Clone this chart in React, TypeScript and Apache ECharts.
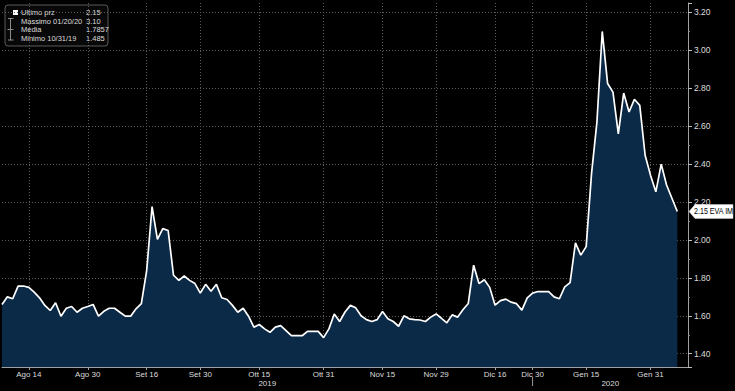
import React, { useEffect, useRef } from "react";
import * as echarts from "echarts";

// ---- calendar (Borsa Italiana trading days) ----
const START_DATE = "2019-08-07";
const END_DATE = "2020-02-11";
const HOLIDAYS = ["2019-08-15", "2019-12-24", "2019-12-25", "2019-12-26", "2019-12-31", "2020-01-01"];

// ---- price series (EVA IM), one value per trading day from 2019-08-07 ----
const PRICES: number[] = [
  1.66, 1.70, 1.69, 1.757, 1.757, 1.75, 1.725, 1.695, 1.655, 1.628,
  1.669, 1.598, 1.64, 1.649, 1.619, 1.64, 1.649, 1.66, 1.598, 1.624,
  1.64, 1.64, 1.619, 1.598, 1.598, 1.637, 1.664, 1.84, 2.176, 2.003,
  2.06, 2.05, 1.814, 1.787, 1.81, 1.787, 1.77, 1.72, 1.766, 1.73,
  1.766, 1.695, 1.686, 1.655, 1.619, 1.64, 1.598, 1.54, 1.554, 1.531,
  1.513, 1.54, 1.548, 1.522, 1.495, 1.495, 1.495, 1.518, 1.518, 1.518,
  1.485, 1.531, 1.61, 1.57, 1.62, 1.655, 1.642, 1.60, 1.58, 1.57,
  1.58, 1.623, 1.584, 1.57, 1.545, 1.60, 1.584, 1.58, 1.578, 1.57,
  1.593, 1.61, 1.587, 1.563, 1.605, 1.593, 1.632, 1.665, 1.867, 1.77,
  1.79, 1.75, 1.656, 1.68, 1.688, 1.672, 1.664, 1.63, 1.695, 1.72,
  1.728, 1.728, 1.728, 1.70, 1.69, 1.753, 1.775, 1.985, 1.92, 1.965,
  2.35, 2.62, 3.10, 2.825, 2.78, 2.56, 2.775, 2.675, 2.742, 2.71,
  2.447, 2.342, 2.254, 2.40, 2.29, 2.22, 2.15,
];

// ---- x tick label dates ----
const LABEL_DATES = [
  "2019-08-14", "2019-08-30", "2019-09-16", "2019-09-30", "2019-10-15", "2019-10-31",
  "2019-11-15", "2019-11-29", "2019-12-16", "2019-12-30", "2020-01-15", "2020-01-31",
];
const MONTHS_IT = ["Gen", "Feb", "Mar", "Apr", "Mag", "Giu", "Lug", "Ago", "Set", "Ott", "Nov", "Dic"];
const YEAR_LABELS = ["2019", "2020"];
const YEAR_SEPARATOR_DATE = "2019-12-30";

// ---- legend ----
const LEGEND_NAMES = ["Ultimo prz", "Massimo 01/20/20", "Media", "Minimo 10/31/19"];
const LEGEND_VALUES = ["2.15", "3.10", "1.7857", "1.485"];
const TICKER = "EVA IM";

const Y_MIN = 1.33;
const Y_MAX = 3.25;

const FONT = "'Liberation Sans', Arial, sans-serif";
const TEXT_COLOR = "#dcdcdc";

function tradingDays(start: string, end: string, holidays: string[]): string[] {
  const out: string[] = [];
  const d = new Date(start + "T00:00:00Z");
  const e = new Date(end + "T00:00:00Z");
  while (d <= e) {
    const wd = d.getUTCDay();
    const s = d.toISOString().slice(0, 10);
    if (wd !== 0 && wd !== 6 && holidays.indexOf(s) < 0) out.push(s);
    d.setUTCDate(d.getUTCDate() + 1);
  }
  return out;
}

export default function App() {
  const ref = useRef<HTMLDivElement>(null);

  useEffect(() => {
    if (!ref.current) return;
    const chart = echarts.init(ref.current, undefined, { renderer: "svg" });
    const dates = tradingDays(START_DATE, END_DATE, HOLIDAYS);
    const values = dates.map((_, i) => (i < PRICES.length ? PRICES[i] : null));
    const lastIdx = PRICES.length - 1;
    const lastVal = PRICES[lastIdx];
    const labelSet = new Set(LABEL_DATES);
    const isLabel = (idx: number) => labelSet.has(dates[idx]);
    const fmtDate = (v: string) => {
      const parts = v.split("-");
      return MONTHS_IT[parseInt(parts[1], 10) - 1] + " " + parseInt(parts[2], 10);
    };

    const rowY = [7.5, 16, 24.5, 33];
    const legendChildren: any[] = [
      {
        type: "rect",
        shape: { x: 0, y: 0, width: 103, height: 41, r: 3 },
        style: { fill: "#080808", stroke: "#5a5a5a", lineWidth: 1 },
      },
      { type: "rect", shape: { x: 8, y: 5, width: 5, height: 5 }, style: { fill: "#ffffff" } },
      { type: "line", shape: { x1: 5.5, y1: 13.5, x2: 5.5, y2: 35 }, style: { stroke: "#8a8a8a", lineWidth: 1 } },
      { type: "line", shape: { x1: 3, y1: 13.5, x2: 8.5, y2: 13.5 }, style: { stroke: "#8a8a8a", lineWidth: 1 } },
      { type: "line", shape: { x1: 2.5, y1: 24.5, x2: 8.5, y2: 24.5 }, style: { stroke: "#8a8a8a", lineWidth: 1 } },
      { type: "line", shape: { x1: 3, y1: 35, x2: 8.5, y2: 35 }, style: { stroke: "#8a8a8a", lineWidth: 1 } },
    ];
    LEGEND_NAMES.forEach((name, i) => {
      legendChildren.push({
        type: "text",
        style: { text: name, x: 16, y: rowY[i], fill: TEXT_COLOR, fontSize: 7.5, fontFamily: FONT, verticalAlign: "middle" },
      });
      legendChildren.push({
        type: "text",
        style: { text: LEGEND_VALUES[i], x: 81, y: rowY[i], fill: TEXT_COLOR, fontSize: 7.5, fontFamily: FONT, verticalAlign: "middle" },
      });
    });

    chart.setOption({
      animation: false,
      backgroundColor: "#000000",
      grid: { left: 2, right: 47, top: 3, bottom: 24, containLabel: false },
      xAxis: {
        type: "category",
        data: dates,
        boundaryGap: false,
        axisLine: { onZero: false, lineStyle: { color: "#a0a0a0", width: 1 } },
        axisTick: { show: true, interval: isLabel, length: 3, lineStyle: { color: "#a0a0a0" } },
        axisLabel: {
          interval: isLabel,
          formatter: fmtDate,
          color: TEXT_COLOR,
          fontSize: 8,
          fontFamily: FONT,
          margin: 3,
        },
        splitLine: { show: true, interval: isLabel, lineStyle: { color: "#5c5c5c", type: [1, 2], width: 1 } },
      },
      yAxis: {
        type: "value",
        position: "right",
        min: Y_MIN,
        max: Y_MAX,
        splitNumber: 10,
        minInterval: 0.2,
        maxInterval: 0.2,
        axisLine: { show: true, lineStyle: { color: "#a0a0a0", width: 1 } },
        axisTick: { show: true, length: 4, lineStyle: { color: "#bdbdbd" } },
        minorTick: { show: true, splitNumber: 2, length: 2, lineStyle: { color: "#8a8a8a" } },
        axisLabel: {
          showMinLabel: false,
          showMaxLabel: false,
          color: TEXT_COLOR,
          fontSize: 8.5,
          fontFamily: FONT,
          margin: 6,
          formatter: (v: number) => v.toFixed(2),
        },
        splitLine: {
          show: true,
          showMinLine: false,
          showMaxLine: false,
          lineStyle: { color: "#5c5c5c", type: [1, 2], width: 1 },
        },
      },
      series: [
        {
          type: "line",
          data: values,
          symbol: "none",
          lineStyle: { color: "#ffffff", width: 1.7 },
          areaStyle: { color: "#0b2a48", opacity: 1 },
        },
      ],
      graphic: [{ type: "group", id: "legend", x: 5, y: 5, children: legendChildren }],
    });

    // annotations placed through the axis scales
    const sepIdx = dates.indexOf(YEAR_SEPARATOR_DATE);
    const xLeft = chart.convertToPixel({ xAxisIndex: 0 }, 0) as number;
    const xSep = chart.convertToPixel({ xAxisIndex: 0 }, sepIdx) as number;
    const xRight = chart.convertToPixel({ xAxisIndex: 0 }, dates.length - 1) as number;
    const yBase = chart.convertToPixel({ yAxisIndex: 0 }, Y_MIN) as number;
    const yLast = chart.convertToPixel({ yAxisIndex: 0 }, lastVal) as number;
    const tagL = xRight + 1;
    const tagR = chart.getWidth() - 2;
    chart.setOption({
      graphic: [
        { type: "group", id: "legend", x: 5, y: 5, children: legendChildren },
        {
          type: "text",
          id: "y2019",
          style: { text: YEAR_LABELS[0], x: (xLeft + xSep) / 2, y: yBase + 16, fill: TEXT_COLOR, fontSize: 8, fontFamily: FONT, align: "center", verticalAlign: "middle" },
        },
        {
          type: "text",
          id: "y2020",
          style: { text: YEAR_LABELS[1], x: (xSep + xRight) / 2, y: yBase + 16, fill: TEXT_COLOR, fontSize: 8, fontFamily: FONT, align: "center", verticalAlign: "middle" },
        },
        {
          type: "line",
          id: "ysep",
          shape: { x1: xSep, y1: yBase + 10, x2: xSep, y2: yBase + 19 },
          style: { stroke: "#9a9a9a", lineWidth: 1 },
        },
        {
          type: "polygon",
          id: "tag",
          z: 20,
          shape: {
            points: [
              [tagL, yLast],
              [tagL + 6, yLast - 7],
              [tagR, yLast - 7],
              [tagR, yLast + 7],
              [tagL + 6, yLast + 7],
            ],
          },
          style: { fill: "#ffffff", stroke: "#cfcfcf", lineWidth: 0.5 },
        },
        {
          type: "text",
          id: "tagText",
          z: 21,
          x: tagL + 5,
          y: yLast,
          scaleX: 0.84,
          style: {
            text: lastVal.toFixed(2) + " " + TICKER,
            x: 0,
            y: 0,
            fill: "#000000",
            fontSize: 8.5,
            fontFamily: FONT,
            verticalAlign: "middle",
          },
        },
      ],
    });

    return () => chart.dispose();
  }, []);

  return <div ref={ref} style={{ width: 735, height: 391, position: "absolute", left: 0, top: 0 }} />;
}
